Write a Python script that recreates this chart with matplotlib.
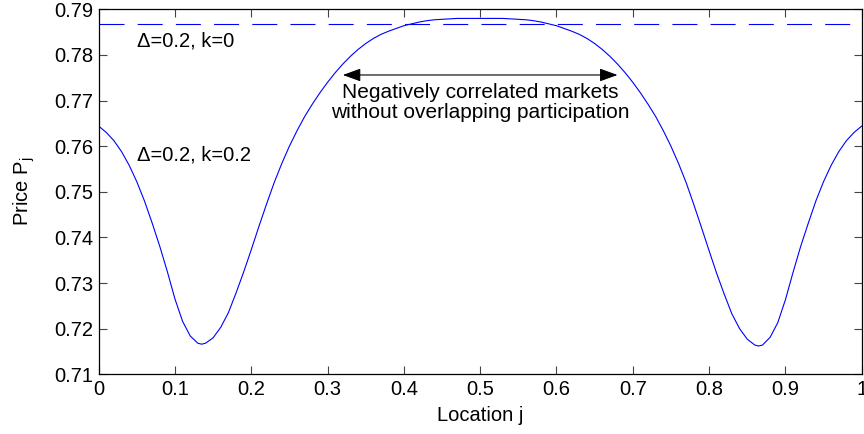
import numpy as np
import matplotlib
matplotlib.use("Agg")
from matplotlib import pyplot as plt

loc = ([i / 100 for i in range(0, 14)] + [0.135] + [i / 100 for i in range(14, 87)]
       + [0.865] + [i / 100 for i in range(87, 101)])
loc = sorted(loc)
price_k02 = [0.7644, 0.7630, 0.7612, 0.7588, 0.7558, 0.7522, 0.7480, 0.7432,
             0.7381, 0.7325, 0.7265, 0.7216, 0.7184, 0.7168, 0.7166, 0.7168,
             0.7180, 0.7203, 0.7235, 0.7278, 0.7324, 0.7373, 0.7424, 0.7473,
             0.7520, 0.7562, 0.7600, 0.7634, 0.7665, 0.7692, 0.7717, 0.7740,
             0.7761, 0.7780, 0.7797, 0.7812, 0.7825, 0.7836, 0.7845, 0.7852,
             0.7858, 0.7864, 0.7868, 0.7872, 0.7875, 0.7877, 0.7878, 0.7879,
             0.7880, 0.7880, 0.7880, 0.7880,
             0.7880, 0.7880, 0.7880, 0.7879, 0.7878, 0.7877, 0.7875, 0.7872,
             0.7868, 0.7864, 0.7858, 0.7852, 0.7845, 0.7836, 0.7825, 0.7812,
             0.7797, 0.7780, 0.7761, 0.7740, 0.7717, 0.7692, 0.7665, 0.7634,
             0.7600, 0.7562, 0.7520, 0.7472, 0.7422, 0.7371, 0.7321, 0.7275,
             0.7232, 0.7200, 0.7177, 0.7164, 0.7162, 0.7164, 0.7181, 0.7213,
             0.7263, 0.7323, 0.7380, 0.7431, 0.7480, 0.7522, 0.7558, 0.7588,
             0.7612, 0.7630, 0.7644]
price_k0 = 0.7867

xticks = np.arange(0, 1.01, 0.1)
yticks = np.arange(0.71, 0.7901, 0.01)

plt.rcParams['font.family'] = ['Liberation Sans', 'DejaVu Sans']
plt.rcParams['lines.scale_dashes'] = False

fig = plt.figure(figsize=(8.64, 4.34), dpi=100)
ax = fig.add_axes([0.1142, 0.1376, 0.8831, 0.841])

ax.plot(loc, price_k02, color=(0, 0, 1), lw=0.8)
ax.axhline(price_k0, color=(0, 0, 1), lw=0.8, dashes=(18, 9.5))

ax.set_xlim(0, 1)
ax.set_ylim(0.71, 0.79)
ax.set_xticks(xticks)
ax.set_xticklabels(['0'] + ['%.1f' % v for v in xticks[1:-1]] + ['1'])
ax.set_yticks(yticks)
ax.set_yticklabels(['%.2f' % v for v in yticks])
ax.tick_params(direction='in', length=6, width=0.8, top=True, right=True,
               color='#444444', labelsize=14.5, pad=4)
for s in ax.spines.values():
    s.set_linewidth(0.9)

ax.set_xlabel('Location j', fontsize=14.5, labelpad=5)
ax.set_ylabel('Price P$_\\mathregular{j}$', fontsize=14.5, labelpad=12)

ax.text(0.05, 0.7831, '\u0394=0.2, k=0', fontsize=14.5, va='center', ha='left')
ax.text(0.05, 0.7581, '\u0394=0.2, k=0.2', fontsize=14.5, va='center', ha='left')

ax.annotate('', xy=(0.32, 0.7756), xytext=(0.68, 0.7756),
            arrowprops=dict(arrowstyle='<|-|>,head_length=1.1,head_width=0.4',
                            color='black', lw=0.8, shrinkA=0, shrinkB=0))
ax.text(0.5, 0.7696, 'Negatively correlated markets\nwithout overlapping participation',
        fontsize=15, ha='center', va='center', linespacing=1.05)

fig.savefig('out.png', dpi=100)
